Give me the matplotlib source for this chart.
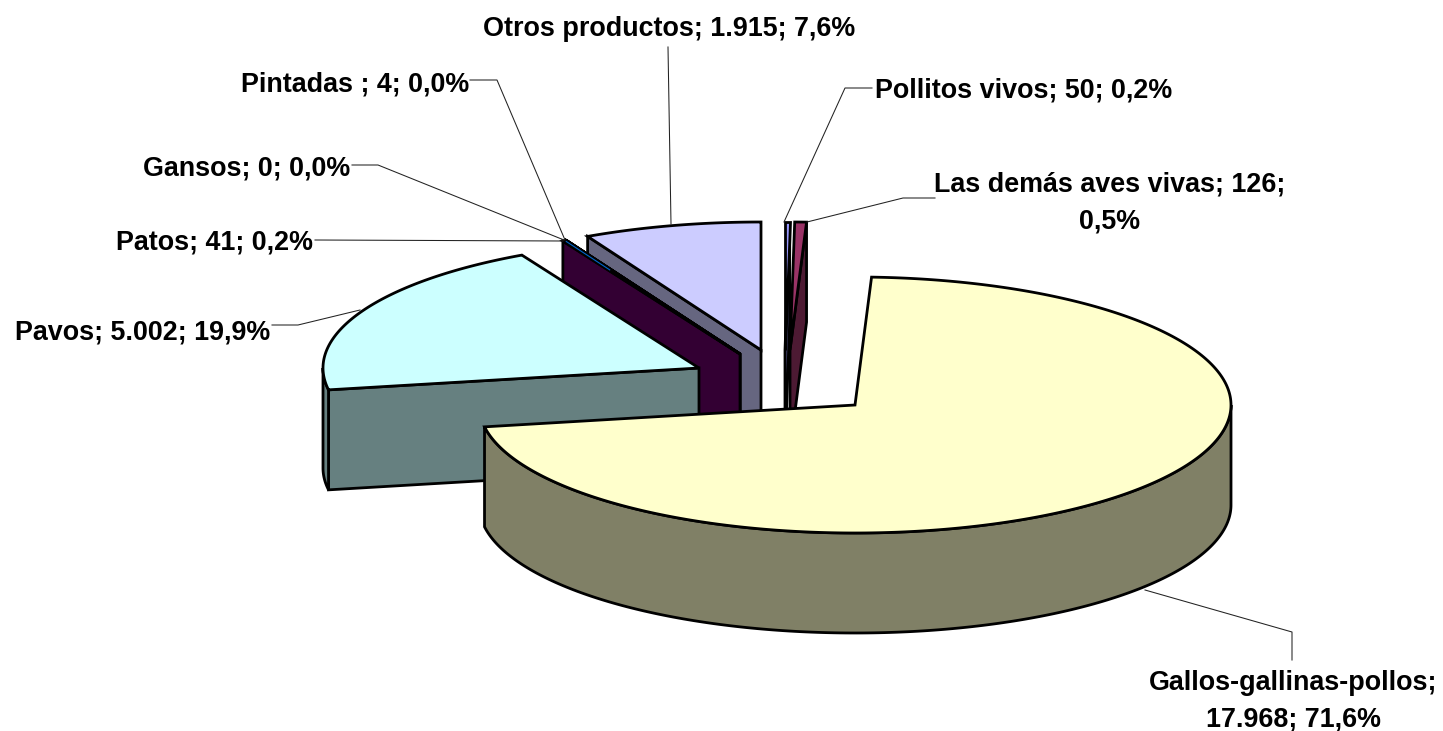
import numpy as np
import matplotlib
matplotlib.use("Agg")
import matplotlib.pyplot as plt
from matplotlib.patches import Polygon

# orden de las porciones, en sentido horario desde las 12
categories = ["Pollitos vivos", "Las demás aves vivas", "Gallos-gallinas-pollos", "Pavos",
              "Patos", "Gansos", "Pintadas ", "Otros productos"]
values = [50, 126, 17968, 5002, 41, 0, 4, 1915]
value_labels = ["50", "126", "17.968", "5.002", "41", "0", "4", "1.915"]
percent_labels = ["0,2%", "0,5%", "71,6%", "19,9%", "0,2%", "0,0%", "0,0%", "7,6%"]

top_colors = ["#9999FF", "#993366", "#FFFFCC", "#CCFFFF", "#660066", "#FF8080", "#0066CC", "#CCCCFF"]
side_colors = ["#4D4D80", "#4D1A33", "#808066", "#668080", "#330033", "#804040", "#003366", "#666680"]

# vértice de cada porción separada (px)
apex_x = [785, 790, 855, 699, 740, 740, 740, 761]
apex_y = [350, 350, 405, 368, 354, 354, 354, 350]
draw_order = [1, 0, 7, 6, 5, 4, 3, 2]

RX, RY, DEPTH = 376, 128, 100
EDGE = 2.0

# x, y, alineación de cada etiqueta
label_pos = [
    (875, 90, "left"), (1110, 203, "center"), (1293, 701, "center"), (270, 332, "right"),
    (313, 243, "right"), (350, 168, "right"), (469, 84, "right"), (669, 29, "center"),
]

# guías de las etiquetas (px)
leaders = [
    [(872, 88), (845, 88), (784, 222)],
    [(935, 198), (903, 198), (807, 222)],
    [(1145, 590), (1292, 632), (1292, 660)],
    [(272, 325), (298, 325), (360, 310)],
    [(315, 240), (563, 241)],
    [(352, 165), (378, 165), (564, 240)],
    [(470, 80), (497, 80), (565, 240)],
    [(668, 47), (671, 224)],
]


def rim(t_deg, cx, cy):
    t = np.radians(t_deg)
    return np.column_stack([cx + RX * np.sin(t), cy - RY * np.cos(t)])


def draw_slice(ax, t0, t1, cx, cy, top, side):
    # cara de corte visible según el ángulo
    if 180 < t0 < 360:
        p = rim([t0], cx, cy)[0]
        quad = [(cx, cy), p, (p[0], p[1] + DEPTH), (cx, cy + DEPTH)]
        ax.add_patch(Polygon(quad, fc=side, ec="black", lw=EDGE))
    if 0 < t1 < 180:
        p = rim([t1], cx, cy)[0]
        quad = [(cx, cy), p, (p[0], p[1] + DEPTH), (cx, cy + DEPTH)]
        ax.add_patch(Polygon(quad, fc=side, ec="black", lw=EDGE))

    # pared exterior, solo la parte delantera
    a, b = max(t0, 90), min(t1, 270)
    if a < b:
        arc = rim(np.linspace(a, b, 200), cx, cy)
        low = arc[::-1] + [0, DEPTH]
        ax.add_patch(Polygon(np.vstack([arc, low]), fc=side, ec="black", lw=EDGE))

    arc = rim(np.linspace(t0, t1, 300), cx, cy)
    ax.add_patch(Polygon(np.vstack([[(cx, cy)], arc]), fc=top, ec="black", lw=EDGE))


fig = plt.figure(figsize=(14.43, 7.31), dpi=100)
ax = fig.add_axes([0, 0, 1, 1])
ax.set_xlim(0, 1443)
ax.set_ylim(731, 0)
ax.axis("off")

edges = np.concatenate([[0], np.cumsum(values)]) / np.sum(values) * 360

for i in draw_order:
    draw_slice(ax, edges[i], edges[i + 1], apex_x[i], apex_y[i], top_colors[i], side_colors[i])
    if categories[i] == "Patos":
        # Pintadas casi no tiene ancho: se ve como un hilo azul
        p = rim([edges[6]], apex_x[6], apex_y[6])[0]
        c = np.array([apex_x[6], apex_y[6]])
        q = p + (c - p) * 0.25
        ax.plot([p[0], q[0]], [p[1] + 1, q[1] + 1], color=top_colors[6], lw=0.8, zorder=3)

for pts in leaders:
    xs, ys = zip(*pts)
    ax.plot(xs, ys, color="#222222", lw=0.75, zorder=2.5)

for i, name in enumerate(categories):
    if i == 1:
        txt = f"{name}; {value_labels[i]};\n{percent_labels[i]}"
    elif i == 2:
        txt = f"{name};\n{value_labels[i]}; {percent_labels[i]}"
    else:
        txt = f"{name}; {value_labels[i]}; {percent_labels[i]}"
    x, y, ha = label_pos[i]
    ax.text(x, y, txt, ha=ha, va="center", ma="center", family="Liberation Sans", weight="bold",
            fontsize=19.4, linespacing=1.54, color="black")

fig.savefig("out.png", dpi=100, facecolor="white")
